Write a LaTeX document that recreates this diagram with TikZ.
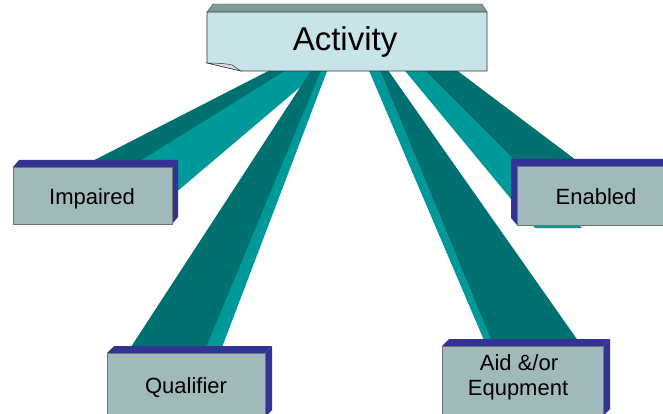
\documentclass[tikz,border=0pt]{standalone}
\usepackage{fontspec}
\setmainfont{Liberation Sans}
\definecolor{beamdark}{RGB}{0,112,112}
\definecolor{beamlight}{RGB}{0,153,153}
\definecolor{boxface}{RGB}{160,185,186}
\definecolor{boxside}{RGB}{51,51,150}
\definecolor{actface}{RGB}{200,228,232}
\definecolor{acttop}{RGB}{127,154,152}
\definecolor{actfold}{RGB}{214,222,224}
\begin{document}
\begin{tikzpicture}[x=1pt,y=-1pt,
  darkface/.style={fill=beamdark},
  lightface/.style={fill=beamlight},
  sideface/.style={fill=boxside},
  frontface/.style={fill=boxface,draw=black!55,line width=0.4pt},
  label/.style={font=\fontsize{22}{26}\selectfont,anchor=base,inner sep=0pt}]
\useasboundingbox (0,0) rectangle (663,414);
\clip (0,0) rectangle (663,414);

% beam to "Impaired"
\path[darkface]  (278,66) -- (295,66) -- (126,170) -- (75,170) -- cycle;
\path[lightface] (293,66) -- (325,66) -- (167,200) -- (126,170) -- cycle;
% beam to "Qualifier"
\path[darkface]  (314,66) -- (325,66) -- (207,350) -- (129,350) -- cycle;
\path[lightface] (323,66) -- (329,66) -- (221,350) -- (205,350) -- cycle;
% beam to "Aid &/or Equpment"
\path[lightface] (367,66) -- (378,66) -- (493,345) -- (486,345) -- cycle;
\path[darkface]  (378,66) -- (385,66) -- (581,345) -- (493,345) -- cycle;
% beam to "Enabled"
\path[lightface] (401,66) -- (420,66) -- (582,228) -- (535,228) -- cycle;
\path[darkface]  (420,66) -- (451,66) -- (629,200) -- (554,200) -- cycle;

% activity box
\path[fill=acttop,draw=black!70,line width=0.4pt] (213,4) -- (482,4) -- (487,12) -- (207,12) -- cycle;
\path[fill=actface,draw=black!80,line width=0.6pt]
  (207,12) -- (487,12) -- (487,71) -- (241,71) -- (207,63) -- cycle;
\path[fill=actfold,draw=black!80,line width=0.5pt]
  (207,63) .. controls (220,63) and (228,64) .. (232,65) -- (241,71) -- cycle;
\node[font=\fontsize{33}{40}\selectfont,anchor=base,inner sep=0pt] (activity) at (345,51) {Activity};

% box "Impaired"
\path[sideface] (13,167) -- (19,160) -- (178,160) -- (172,167) -- cycle;
\path[sideface] (172,167) -- (178,160) -- (178,217) -- (172,224) -- cycle;
\path[frontface] (13,167) rectangle (172,224);
\node[label] (impaired) at (92,204) {Impaired};

% box "Qualifier"
\path[sideface] (107,353) -- (114,346) -- (272,346) -- (265,353) -- cycle;
\path[sideface] (265,353) -- (272,346) -- (272,410) -- (265,417) -- cycle;
\path[frontface] (107,353) rectangle (265,417);
\node[label] (qualifier) at (186,393) {Qualifier};

% box "Aid &/or Equpment"
\path[sideface] (442,346) -- (449,339) -- (610,339) -- (603,346) -- cycle;
\path[sideface] (603,346) -- (610,339) -- (610,409) -- (603,416) -- cycle;
\path[frontface] (442,346) rectangle (603,416);
\node[label] (aid) at (519,370) {Aid \&/or};
\node[label] (equipment) at (518,395) {Equpment};

% box "Enabled"
\path[sideface] (517,166) -- (511,159) -- (669,159) -- (675,166) -- cycle;
\path[sideface] (517,166) -- (511,159) -- (511,218) -- (517,225) -- cycle;
\path[frontface] (517,166) rectangle (675,225);
\node[label] (enabled) at (596,204) {Enabled};
\end{tikzpicture}
\end{document}
